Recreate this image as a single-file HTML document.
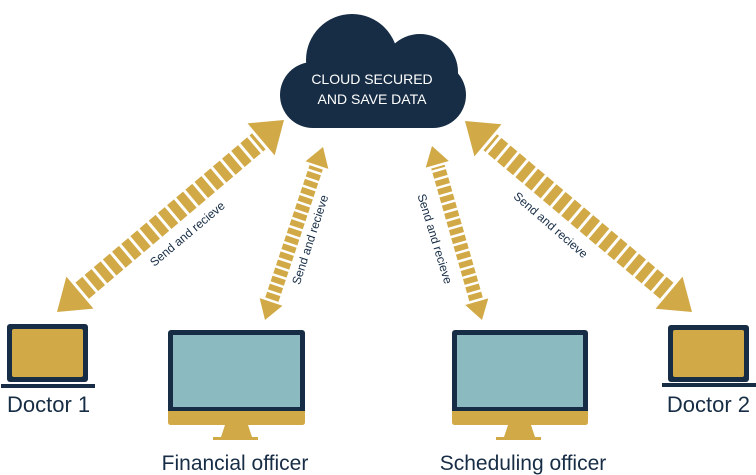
<!DOCTYPE html>
<html><head><meta charset="utf-8"><style>
html,body{margin:0;padding:0;background:#fff;width:756px;height:475px;overflow:hidden}
svg{display:block}
text{font-family:"Liberation Sans",sans-serif}
</style></head><body>
<svg width="756" height="475" viewBox="0 0 756 475" xmlns="http://www.w3.org/2000/svg">
<g id="arrows"></g>
<!-- cloud -->
<g fill="#172d45">
<circle cx="352" cy="60" r="46"/>
<circle cx="420" cy="72" r="38"/>
<rect x="280" y="62" width="186" height="66" rx="33"/>
</g>
<text x="372" y="84" fill="#fff" font-size="14" text-anchor="middle">CLOUD SECURED</text>
<text x="372" y="104" fill="#fff" font-size="14" text-anchor="middle">AND SAVE DATA</text>

<!-- labels on arrows -->
<g fill="#172d45" font-size="12" text-anchor="middle">
<text transform="translate(190,237) rotate(-40)">Send and recieve</text>
<text transform="translate(314,241) rotate(-72)">Send and recieve</text>
<text transform="translate(431,240) rotate(73)">Send and recieve</text>
<text transform="translate(548,228) rotate(41)">Send and recieve</text>
</g>

<!-- laptop 1 -->
<rect x="7" y="324" width="81" height="58" rx="3" fill="#172d45"/>
<rect x="12" y="329" width="71" height="48" rx="2" fill="#d1aa47"/>
<rect x="1" y="384" width="94" height="4" fill="#172d45"/>
<text x="7" y="412" font-size="22" fill="#172d45">Doctor 1</text>

<!-- monitor 1 -->
<rect x="168" y="330" width="137" height="84" rx="3" fill="#172d45"/>
<rect x="173" y="335" width="127" height="72" fill="#8bbbc0"/>
<path d="M168 411 H305 V422 Q305 425 302 425 H171 Q168 425 168 422 Z" fill="#d1aa47"/>
<path d="M225 425 H248 L252 437 H258 V440 H213 V437 H221 Z" fill="#d1aa47"/>
<text x="235" y="470" font-size="21" fill="#172d45" text-anchor="middle">Financial officer</text>

<!-- monitor 2 -->
<rect x="452" y="330" width="136" height="84" rx="3" fill="#172d45"/>
<rect x="457" y="335" width="126" height="72" fill="#8bbbc0"/>
<path d="M452 411 H588 V422 Q588 425 585 425 H455 Q452 425 452 422 Z" fill="#d1aa47"/>
<path d="M508 425 H531 L535 437 H541 V440 H496 V437 H504 Z" fill="#d1aa47"/>
<text x="523" y="470" font-size="21" fill="#172d45" text-anchor="middle">Scheduling officer</text>

<!-- laptop 2 -->
<rect x="668" y="325" width="81" height="57" rx="3" fill="#172d45"/>
<rect x="673" y="330" width="71" height="47" rx="2" fill="#d1aa47"/>
<rect x="662" y="383" width="94" height="4" fill="#172d45"/>
<text x="750" y="412" font-size="22" fill="#172d45" text-anchor="end">Doctor 2</text>
</svg>
<script>
(function(){
var g=document.getElementById('arrows'),ns='http://www.w3.org/2000/svg',c='#d1aa47';
function arrow(x1,y1,x2,y2,hl,hw,sw,dash,gap){
 var dx=x2-x1,dy=y2-y1,L=Math.hypot(dx,dy),ux=dx/L,uy=dy/L,px=-uy,py=ux;
 function head(tx,ty,dir){
  var bx=tx-dir*ux*hl,by=ty-dir*uy*hl;
  var p=document.createElementNS(ns,'polygon');
  p.setAttribute('points',tx+','+ty+' '+(bx+px*hw/2)+','+(by+py*hw/2)+' '+(bx-px*hw/2)+','+(by-py*hw/2));
  p.setAttribute('fill',c);g.appendChild(p);
 }
 head(x1,y1,-1);head(x2,y2,1);
 var l=document.createElementNS(ns,'line');
 l.setAttribute('x1',x1+ux*(hl+gap));l.setAttribute('y1',y1+uy*(hl+gap));
 l.setAttribute('x2',x2-ux*(hl+gap));l.setAttribute('y2',y2-uy*(hl+gap));
 l.setAttribute('stroke',c);l.setAttribute('stroke-width',sw);
 l.setAttribute('stroke-dasharray',dash+' '+gap);g.appendChild(l);
}
arrow(57,312,284,120,30,42,21,9,3);
arrow(265,320,323,147,19,24,14,6,2.5);
arrow(482,320,432,146,19,24,14,6,2.5);
arrow(692,312,465,121,30,42,21,9,3);
})();
</script>
</body></html>
